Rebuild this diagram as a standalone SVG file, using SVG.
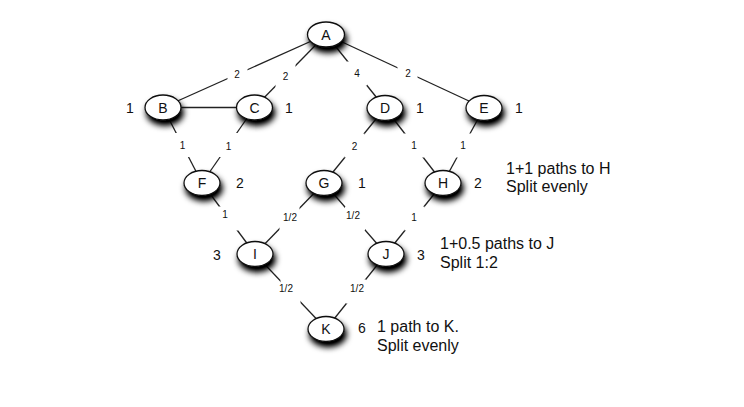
<svg xmlns="http://www.w3.org/2000/svg" width="744" height="407" viewBox="0 0 744 407">
  <defs>
    <filter id="shadow" x="-50%" y="-50%" width="200%" height="230%">
      <feGaussianBlur in="SourceAlpha" stdDeviation="3.2"/>
      <feOffset dx="2" dy="5" result="blur"/>
      <feComponentTransfer>
        <feFuncA type="linear" slope="1.15"/>
      </feComponentTransfer>
      <feMerge>
        <feMergeNode/>
        <feMergeNode in="SourceGraphic"/>
      </feMerge>
    </filter>
  </defs>
  <style>
    text { font-family: "Liberation Sans", Arial, Helvetica, sans-serif; fill: #111; }
    .edge { stroke: #222; stroke-width: 1.3; fill: none; }
    .lblbg { fill: #fff; }
    .elbl { font-size: 10px; text-anchor: middle; }
    .node ellipse { fill: #fff; stroke: #111; stroke-width: 1.3; filter: url(#shadow); }
    .nlbl { font-size: 14px; text-anchor: middle; }
    .cnt { font-size: 14px; text-anchor: middle; }
    .note { font-size: 16px; }
  </style>

  <rect width="744" height="407" fill="#fff"/>

  <!-- connectors: lines first, then label backgrounds that break them, then labels -->
  <g id="connectors">
    <line class="edge" x1="326" y1="34.5" x2="163" y2="107.5"/>
    <line class="edge" x1="326" y1="34.5" x2="254.5" y2="107.5"/>
    <line class="edge" x1="326" y1="34.5" x2="385" y2="108"/>
    <line class="edge" x1="326" y1="34.5" x2="484" y2="108"/>
    <line class="edge" x1="163" y1="107.5" x2="254.5" y2="107.5"/>
    <line class="edge" x1="163" y1="107.5" x2="202" y2="183"/>
    <line class="edge" x1="254.5" y1="107.5" x2="202" y2="183"/>
    <line class="edge" x1="385" y1="108" x2="324" y2="183"/>
    <line class="edge" x1="385" y1="108" x2="443" y2="183"/>
    <line class="edge" x1="484" y1="108" x2="443" y2="183"/>
    <line class="edge" x1="202" y1="183" x2="255" y2="254"/>
    <line class="edge" x1="324" y1="183" x2="255" y2="254"/>
    <line class="edge" x1="324" y1="183" x2="386" y2="254"/>
    <line class="edge" x1="443" y1="183" x2="386" y2="254"/>
    <line class="edge" x1="255" y1="254" x2="326" y2="329"/>
    <line class="edge" x1="386" y1="254" x2="326" y2="329"/>

    <rect class="lblbg" x="227.5" y="61.5" width="20" height="24"/>
    <rect class="lblbg" x="275.5" y="64" width="20" height="24"/>
    <rect class="lblbg" x="347" y="61.5" width="20" height="24"/>
    <rect class="lblbg" x="397.5" y="61" width="20" height="24"/>
    <rect class="lblbg" x="172.5" y="133" width="20" height="24"/>
    <rect class="lblbg" x="218" y="133" width="20" height="24"/>
    <rect class="lblbg" x="344.5" y="133.5" width="20" height="24"/>
    <rect class="lblbg" x="404" y="133.5" width="20" height="24"/>
    <rect class="lblbg" x="453.5" y="133.5" width="20" height="24"/>
    <rect class="lblbg" x="218.5" y="206.5" width="20" height="24"/>
    <rect class="lblbg" x="279.5" y="206.5" width="20" height="24"/>
    <rect class="lblbg" x="345" y="206.5" width="20" height="24"/>
    <rect class="lblbg" x="404.5" y="206.5" width="20" height="24"/>
    <rect class="lblbg" x="280.5" y="279.5" width="20" height="24"/>
    <rect class="lblbg" x="346" y="279.5" width="20" height="24"/>

    <text class="elbl" x="237" y="77.5">2</text>
    <text class="elbl" x="285.5" y="80">2</text>
    <text class="elbl" x="357" y="77">4</text>
    <text class="elbl" x="408" y="77">2</text>
    <text class="elbl" x="182.5" y="149">1</text>
    <text class="elbl" x="228.5" y="149.5">1</text>
    <text class="elbl" x="354.5" y="149.5">2</text>
    <text class="elbl" x="414" y="149">1</text>
    <text class="elbl" x="463" y="149">1</text>
    <text class="elbl" x="225" y="218">1</text>
    <text class="elbl" x="290" y="221">1/2</text>
    <text class="elbl" x="353" y="219">1/2</text>
    <text class="elbl" x="414" y="221">1</text>
    <text class="elbl" x="286" y="292">1/2</text>
    <text class="elbl" x="357" y="292">1/2</text>
  </g>

  <!-- nodes -->
  <g id="node-A" class="node"><ellipse cx="326" cy="34.5" rx="18.5" ry="12.5"/><text class="nlbl" x="326" y="39.5">A</text></g>
  <g id="node-B" class="node"><ellipse cx="163" cy="107.5" rx="18" ry="12.5"/><text class="nlbl" x="163" y="112.5">B</text></g>
  <g id="node-C" class="node"><ellipse cx="254.5" cy="107.5" rx="18" ry="12.5"/><text class="nlbl" x="254.5" y="112.5">C</text></g>
  <g id="node-D" class="node"><ellipse cx="385" cy="108" rx="18" ry="12.5"/><text class="nlbl" x="385" y="113">D</text></g>
  <g id="node-E" class="node"><ellipse cx="484" cy="108" rx="18" ry="12.5"/><text class="nlbl" x="484" y="113">E</text></g>
  <g id="node-F" class="node"><ellipse cx="202" cy="183" rx="18" ry="12.5"/><text class="nlbl" x="202" y="188">F</text></g>
  <g id="node-G" class="node"><ellipse cx="324" cy="183" rx="18" ry="12.5"/><text class="nlbl" x="324" y="188">G</text></g>
  <g id="node-H" class="node"><ellipse cx="443" cy="183" rx="18" ry="12.5"/><text class="nlbl" x="443" y="188">H</text></g>
  <g id="node-I" class="node"><ellipse cx="255" cy="254" rx="18" ry="12.5"/><text class="nlbl" x="255" y="259">I</text></g>
  <g id="node-J" class="node"><ellipse cx="386" cy="254" rx="18" ry="12.5"/><text class="nlbl" x="386" y="259">J</text></g>
  <g id="node-K" class="node"><ellipse cx="326" cy="329" rx="18" ry="12.5"/><text class="nlbl" x="326" y="334">K</text></g>

  <!-- path counts beside each node -->
  <g id="counts">
    <text class="cnt" x="130" y="112.5">1</text>
    <text class="cnt" x="289" y="112.5">1</text>
    <text class="cnt" x="420" y="112.5">1</text>
    <text class="cnt" x="519" y="112.5">1</text>
    <text class="cnt" x="240" y="187.5">2</text>
    <text class="cnt" x="362" y="187.5">1</text>
    <text class="cnt" x="478" y="187.5">2</text>
    <text class="cnt" x="217" y="259.5">3</text>
    <text class="cnt" x="421" y="260">3</text>
    <text class="cnt" x="362" y="333">6</text>
  </g>

  <!-- annotations -->
  <g id="notes">
    <text class="note" x="506" y="173.5">1+1 paths to H</text>
    <text class="note" x="506" y="192">Split evenly</text>
    <text class="note" x="440" y="249">1+0.5 paths to J</text>
    <text class="note" x="440" y="267.5">Split 1:2</text>
    <text class="note" x="377" y="332">1 path to K.</text>
    <text class="note" x="377" y="350.5">Split evenly</text>
  </g>
</svg>
